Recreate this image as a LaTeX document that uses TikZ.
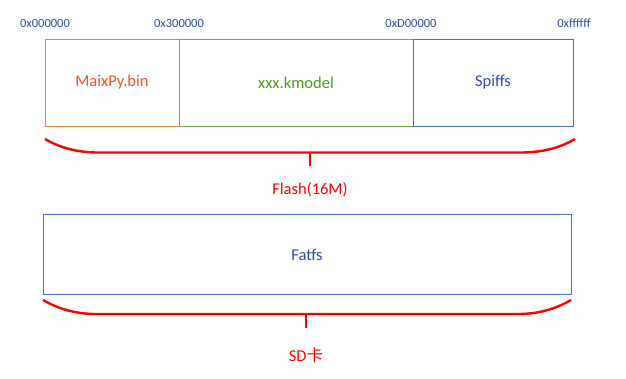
\documentclass[tikz,border=0pt]{standalone}
\usepackage{fontspec}
\setmainfont{Carlito}
\newfontfamily\cjk{Noto Sans CJK SC}
\usetikzlibrary{calc}
\definecolor{orangeB}{HTML}{ED7D31}
\definecolor{orangeT}{HTML}{F0502A}
\definecolor{greenB}{HTML}{70AD47}
\definecolor{greenT}{HTML}{4E9A1E}
\definecolor{blueB}{HTML}{4472C4}
\definecolor{blueT}{HTML}{2F4BA8}
\definecolor{redL}{HTML}{FF0000}
\tikzset{
  seg/.style={draw, line width=0.9pt, inner sep=0pt, outer sep=0pt, anchor=north west, font=\fontsize{16.5}{18}\selectfont},
  addr/.style={text=blueT, font=\fontsize{12.5}{14}\selectfont, inner sep=0pt},
  bracel/.style={draw=redL, line width=2.4pt},
  brtext/.style={text=redL, font=\fontsize{16.5}{18}\selectfont, inner sep=0pt}
}
\begin{document}
\begin{tikzpicture}[x=1pt,y=-1pt]
\useasboundingbox (0,0) rectangle (626,379);
% Flash segments
\node[seg, draw=orangeB, text=orangeT, minimum width=134pt, minimum height=87pt] (maix) at (45,39) {MaixPy.bin};
\node[seg, draw=greenB, text=greenT, minimum width=234pt, minimum height=87pt] (kmodel) at (179,39) {xxx.kmodel};
\node[seg, draw=blueB, text=blueT, minimum width=160pt, minimum height=87pt] (spiffs) at (413,39) {Spiffs};
% addresses
\node[addr] (a0) at ($(maix.north west)+(0,-16)$) {0x000000};
\node[addr] (a1) at ($(kmodel.north west)+(0,-16)$) {0x300000};
\node[addr] (a2) at ($(spiffs.north west)+(-2,-16)$) {0xD00000};
\node[addr] (a3) at ($(spiffs.north east)+(1,-16)$) {0xffffff};
% Flash brace
\coordinate (fL) at (45,139);
\coordinate (fR) at (575,139);
\coordinate (fM) at (310,152.5);
\draw[bracel] (fL) .. controls (62,149) and (80,152.5) .. (98,152.5) -- (520,152.5) .. controls (540,152.5) and (558,149) .. (fR);
\draw[bracel] (fM) -- (310,166);
\node[brtext] (flash) at (310,190) {Flash(16M)};
% SD box
\node[seg, draw=blueB, text=blueT, minimum width=528pt, minimum height=80pt] (fatfs) at (43,214.5) {Fatfs};
% SD brace
\coordinate (sL) at (43,300);
\coordinate (sR) at (571,300);
\coordinate (sM) at (306,314);
\draw[bracel] (sL) .. controls (60,310) and (78,314) .. (96,314) -- (518,314) .. controls (536,314) and (554,310) .. (sR);
\draw[bracel] (sM) -- (306,328);
\node[brtext] (sd) at (306,355) {SD{\cjk 卡}};
\end{tikzpicture}
\end{document}
